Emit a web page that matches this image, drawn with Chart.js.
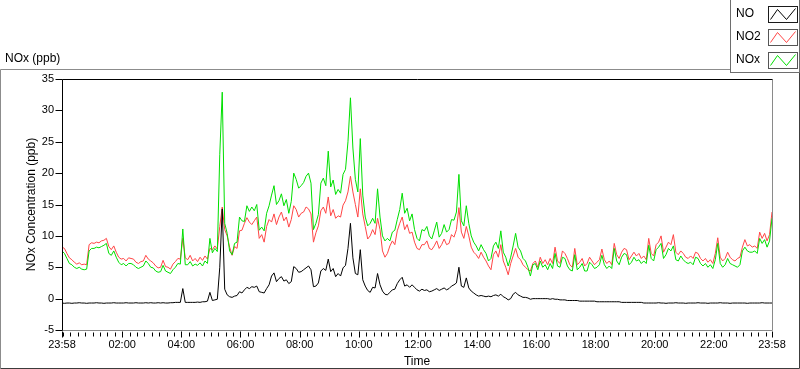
<!DOCTYPE html>
<html>
<head>
<meta charset="utf-8">
<script src="https://cdn.jsdelivr.net/npm/chart.js@4.4.1/dist/chart.umd.min.js"></script>
<style>
  html, body { margin: 0; padding: 0; background: #fff; overflow: hidden; }
  canvas { display: block; }
</style>
</head>
<body>
<canvas id="noxChart" width="800" height="369"></canvas>
<script>
// one sample every 5 minutes, starting 23:58 (one row = one hour)
const STEP_MIN = 5;

const NO = [
  -0.7, -0.75, -0.7, -0.7, -0.75, -0.7, -0.7, -0.65, -0.7, -0.7, -0.75, -0.7,
  -0.7, -0.7, -0.65, -0.7, -0.7, -0.75, -0.7, -0.7, -0.7, -0.65, -0.7, -0.7,
  -0.7, -0.7, -0.65, -0.7, -0.7, -0.7, -0.65, -0.7, -0.7, -0.7, -0.65, -0.7,
  -0.65, -0.7, -0.7, -0.65, -0.7, -0.65, -0.7, -0.7, -0.65, -0.65, -0.6, -0.6,
  -0.6, 1.6, -0.6, -0.6, -0.6, -0.6, -0.6, -0.55, -0.6, -0.5, -0.5, -0.4,
  1.0, -0.3, -0.2, -0.1, 5.0, 14.3, 1.5, 0.6, 0.3, 0.2, 0.4, 0.5,
  1.1, 0.9, 1.4, 1.8, 1.6, 1.9, 1.8, 2.0, 1.1, 1.0, 0.9, 1.6,
  2.2, 3.6, 4.1, 2.7, 3.2, 3.5, 2.8, 3.0, 2.4, 2.7, 5.1, 4.8,
  4.2, 4.3, 4.6, 4.9, 5.2, 4.6, 1.9, 2.0, 2.5, 4.4, 4.8, 4.5,
  6.3, 4.3, 4.8, 3.5, 4.0, 3.6, 4.9, 5.3, 8.0, 12.0, 6.5, 4.0,
  3.8, 7.8, 3.0, 2.0, 1.3, 1.0, 1.8, 1.7, 4.0, 2.2, 1.2, 0.7,
  0.6, 1.0, 1.4, 1.5, 2.4, 3.0, 3.4, 2.0, 2.2, 1.8, 2.2, 1.8,
  1.4, 1.2, 1.5, 1.3, 1.4, 1.1, 1.2, 1.4, 1.6, 1.3, 1.5, 1.7,
  1.4, 1.6, 2.0, 2.2, 2.5, 5.0, 2.0, 1.8, 3.3, 1.7, 1.2, 0.9,
  0.6, 0.4, 0.5, 0.4, 0.3, 0.4, 0.3, 0.5, 0.6, 0.4, 0.7, 0.3,
  0.1, -0.2, 0.0, 0.7, 1.0, 0.6, 0.4, 0.2, 0.2, 0.1, -0.1, 0.0,
  0.0, 0.0, 0.0, 0.0, 0.0, 0.0, -0.1, 0.0, -0.1, -0.1, -0.2, -0.2,
  -0.2, -0.3, -0.3, -0.3, -0.3, -0.3, -0.4, -0.4, -0.4, -0.4, -0.4, -0.4,
  -0.4, -0.5, -0.5, -0.5, -0.5, -0.5, -0.5, -0.5, -0.5, -0.5, -0.5, -0.6,
  -0.6, -0.6, -0.6, -0.6, -0.6, -0.6, -0.6, -0.6, -0.7, -0.7, -0.7, -0.7,
  -0.7, -0.7, -0.65, -0.7, -0.7, -0.75, -0.7, -0.7, -0.7, -0.65, -0.7, -0.7,
  -0.7, -0.75, -0.7, -0.7, -0.7, -0.7, -0.65, -0.7, -0.7, -0.7, -0.75, -0.7,
  -0.7, -0.7, -0.7, -0.65, -0.7, -0.7, -0.7, -0.75, -0.7, -0.7, -0.7, -0.7,
  -0.7, -0.7, -0.75, -0.7, -0.7, -0.7, -0.7, -0.7, -0.65, -0.7, -0.7, -0.7,
  -0.7
];

const NO2 = [
  8.2, 8.0, 7.2, 6.5, 6.2, 5.8, 5.5, 5.7, 5.4, 5.5, 5.4, 8.6,
  8.9, 8.8, 9.0, 8.9, 9.2, 9.3, 9.6, 8.3, 7.8, 8.4, 7.4, 6.6,
  6.3, 6.4, 6.0, 6.5, 6.4, 6.3, 5.8, 5.6, 5.9, 6.0, 6.9, 6.3,
  6.0, 5.7, 5.2, 4.9, 5.0, 6.1, 5.1, 5.0, 4.7, 5.5, 5.9, 6.4,
  6.3, 9.6, 6.5, 6.2, 6.9, 6.0, 6.4, 5.9, 6.6, 6.1, 6.8, 6.3,
  8.0, 7.8, 8.4, 7.9, 11.5, 14.6, 11.0, 10.0, 8.2, 6.9, 8.3, 8.0,
  10.8, 10.9, 12.0, 12.9, 12.2, 11.8, 12.4, 13.0, 9.6, 10.2, 9.0, 11.5,
  12.6, 12.2, 13.5, 11.8, 13.0, 13.8, 12.4, 13.0, 11.4, 12.6, 14.8, 14.2,
  13.0, 13.6, 13.8, 14.6, 14.3, 13.5, 9.0, 10.5, 11.6, 14.0, 14.6, 13.6,
  16.2, 13.2, 14.2, 12.8, 13.2, 13.0, 14.9, 15.6, 17.0, 19.5, 17.0, 15.0,
  13.0, 17.5, 13.5, 11.5, 9.5, 10.0, 11.0, 10.2, 12.8, 11.0, 7.6, 6.6,
  7.2, 8.4, 9.2, 8.6, 10.8, 12.0, 13.0, 11.0, 11.8, 10.4, 10.6, 9.0,
  8.0, 7.8, 8.6, 8.6, 9.2, 8.0, 7.8, 8.4, 9.2, 8.0, 8.6, 9.5,
  8.6, 8.8, 10.2, 9.8, 11.0, 14.5, 10.6, 9.6, 11.5, 10.0, 8.2, 7.4,
  7.0, 6.4, 7.4, 6.6, 6.0, 5.2, 4.6, 7.0, 7.6, 6.6, 8.6, 6.0,
  5.0, 3.8, 5.6, 6.8, 8.0, 6.6, 6.2, 5.4, 5.0, 4.6, 4.4, 5.6,
  6.0, 5.0, 6.6, 5.6, 6.2, 5.4, 6.4, 5.6, 8.2, 6.0, 5.6, 7.6,
  7.2, 6.4, 5.4, 5.0, 8.0, 5.4, 5.8, 6.4, 5.2, 5.6, 6.6, 6.0,
  5.4, 5.8, 6.2, 7.9, 6.2, 5.6, 6.0, 5.4, 8.8, 7.0, 6.4, 7.4,
  8.0, 7.8, 6.2, 6.8, 7.4, 6.8, 7.2, 6.4, 6.8, 6.2, 9.6, 7.2,
  6.8, 8.6, 9.0, 10.0, 7.4, 8.2, 9.0, 8.6, 10.2, 7.4, 7.0, 7.6,
  7.2, 6.6, 6.4, 6.8, 6.4, 7.4, 7.2, 6.4, 6.0, 6.4, 5.8, 6.2,
  5.6, 7.2, 9.7, 6.6, 6.0, 6.4, 7.4, 6.6, 6.2, 6.0, 6.4, 6.6,
  8.2, 9.4, 8.4, 8.6, 8.2, 8.4, 8.0, 10.6, 9.6, 10.4, 9.2, 10.2,
  13.8
];

const NOX = [
  7.6, 7.2, 6.4, 5.6, 5.4, 5.0, 4.8, 5.0, 4.7, 4.6, 4.7, 7.6,
  8.0, 8.0, 8.2, 8.1, 8.3, 8.5, 8.8, 7.2, 6.9, 7.6, 6.6, 5.8,
  5.4, 5.6, 5.2, 5.6, 5.6, 5.4, 5.0, 4.8, 5.0, 5.2, 6.0, 5.6,
  5.0, 4.9, 4.4, 4.2, 4.3, 5.3, 4.4, 4.2, 4.0, 4.6, 5.0, 5.6,
  5.5, 11.1, 5.4, 5.4, 5.9, 5.2, 5.5, 5.3, 5.7, 5.2, 6.0, 5.6,
  9.6, 7.3, 8.0, 7.5, 23.0, 32.9, 12.0, 10.4, 7.6, 7.0, 8.8, 9.0,
  13.0, 12.4, 12.3, 14.8, 13.9, 14.6, 14.0, 15.0, 10.9, 11.4, 10.8, 13.6,
  14.8, 16.5, 18.0, 15.0, 15.6, 16.7, 14.8, 15.8, 13.6, 15.5, 20.0, 19.0,
  17.6, 18.0, 18.5, 19.5, 20.0, 18.4, 11.0, 12.0, 13.4, 18.4, 19.2, 18.0,
  23.5, 17.8, 18.9, 16.6, 17.4, 16.8, 19.8, 20.6, 25.0, 32.0, 24.0, 19.0,
  17.0, 25.5, 16.5, 13.0, 11.6, 12.0, 12.8, 12.0, 17.5, 13.0, 10.0, 9.2,
  9.6, 9.2, 10.6, 10.9, 12.6, 14.2, 16.8, 13.6, 14.4, 12.4, 13.5, 11.0,
  9.6, 9.2, 11.0, 10.8, 11.5, 10.0, 9.5, 10.8, 12.2, 9.8, 10.4, 11.8,
  10.6, 11.0, 12.6, 12.5, 13.8, 19.8, 12.4, 11.6, 14.8, 12.0, 10.0, 9.0,
  8.4, 7.6, 8.6, 7.8, 7.2, 6.0, 6.4, 8.4, 9.0, 8.0, 10.8, 7.4,
  6.6, 5.2, 6.6, 8.4, 10.4, 8.2, 7.6, 6.4, 6.0, 5.0, 3.6, 5.4,
  5.6, 4.6, 6.0, 5.0, 5.4, 4.6, 5.6, 4.8, 7.2, 5.2, 5.0, 6.6,
  6.4, 5.2, 4.6, 4.4, 7.0, 4.6, 5.0, 5.6, 4.4, 4.4, 5.8, 5.4,
  4.8, 5.0, 5.4, 6.9, 5.4, 4.8, 5.2, 4.8, 8.0, 6.0, 5.4, 6.6,
  7.2, 7.0, 5.4, 5.8, 6.6, 6.0, 6.2, 5.6, 6.0, 5.6, 8.5, 6.4,
  6.0, 7.8, 8.2, 8.8, 6.4, 7.0, 8.0, 7.6, 8.4, 6.2, 6.0, 6.8,
  6.2, 5.8, 5.6, 5.8, 5.4, 6.6, 6.4, 5.6, 5.2, 5.6, 5.0, 5.4,
  4.8, 6.2, 8.8, 5.6, 5.0, 5.4, 6.4, 5.6, 5.4, 5.2, 5.0, 5.4,
  7.6, 8.2, 7.6, 7.4, 7.4, 7.6, 7.2, 9.6, 8.8, 9.4, 8.2, 9.2,
  12.8
];

// minutes after 23:58 for each sample
const times = NO.map((_, i) => i * STEP_MIN);

const TICK_MINUTES = [0, 122, 242, 362, 482, 602, 722, 842, 962, 1082, 1202, 1322, 1440];
const TICK_LABELS = ['23:58', '02:00', '04:00', '06:00', '08:00', '10:00', '12:00',
  '14:00', '16:00', '18:00', '20:00', '22:00', '23:58'];
const Y_TICKS = [-5, 0, 5, 10, 15, 20, 25, 30, 35];

const SERIES = [
  { name: 'NO', values: NO, color: '#000000', box: '#1a1a1a' },
  { name: 'NO2', values: NO2, color: '#ff4545', box: '#555555' },
  { name: 'NOx', values: NOX, color: '#00e000', box: '#555555' }
];

const FONT = "'Liberation Sans', Arial, sans-serif";

const labviewFrame = {
  id: 'labviewFrame',
  beforeDraw(chart) {
    const c = chart.ctx;
    c.save();
    c.fillStyle = '#fff';
    c.fillRect(0, 0, chart.width, chart.height);
    // outer panel
    c.lineWidth = 1;
    c.strokeStyle = '#8c8c8c';
    c.beginPath();
    c.moveTo(0.5, 368.5); c.lineTo(0.5, 69.5); c.lineTo(799.5, 69.5);
    c.stroke();
    c.strokeStyle = '#3c3c3c';
    c.beginPath();
    c.moveTo(0.5, 368.5); c.lineTo(799.5, 368.5); c.lineTo(799.5, 69.5);
    c.stroke();
    c.restore();
  },
  afterDraw(chart) {
    const c = chart.ctx;
    const { left, right, top, bottom } = chart.chartArea;
    const xs = chart.scales.x, ys = chart.scales.y;
    const L = Math.round(left) + 0.5, R = Math.round(right) + 0.5;
    const T = Math.round(top) + 0.5, B = Math.round(bottom) + 0.5;
    c.save();
    c.lineWidth = 1;
    // plot frame: dark top/left, grey right/bottom
    c.strokeStyle = '#8a8a8a';
    c.beginPath(); c.moveTo(L, B); c.lineTo(R, B); c.lineTo(R, T); c.stroke();
    c.strokeStyle = '#000';
    c.beginPath(); c.moveTo(L, B); c.lineTo(L, T); c.lineTo(R, T); c.stroke();

    // x tick marks: minor every 15 min from 00:00, major at labels
    c.beginPath();
    for (let m = 2; m <= 1440; m += 15) {
      const px = Math.round(xs.getPixelForValue(m)) + 0.5;
      c.moveTo(px, B + 2); c.lineTo(px, B + 6);
    }
    TICK_MINUTES.forEach(m => {
      const px = Math.round(xs.getPixelForValue(m)) + 0.5;
      c.moveTo(px, B + 1); c.lineTo(px, B + 7);
    });
    // y tick marks
    Y_TICKS.forEach(v => {
      const py = Math.round(ys.getPixelForValue(v)) + 0.5;
      c.moveTo(L - 7, py); c.lineTo(L, py);
    });
    c.stroke();

    // scale name, top left
    c.fillStyle = '#000';
    c.font = '12px ' + FONT;
    c.textBaseline = 'middle';
    c.textAlign = 'left';
    c.fillText('NOx (ppb)', 5, 59);

    // legend box
    c.fillStyle = '#fff';
    c.fillRect(730, 0, 70, 73);
    c.strokeStyle = '#6e6e6e';
    c.strokeRect(730.5, -0.5, 69, 73);
    SERIES.forEach((s, i) => {
      const cy = 13.5 + i * 23;
      c.fillStyle = '#000';
      c.fillText(s.name, 736, cy);
      const bx = 768.5, by = Math.round(cy - 8) + 0.5, bw = 29, bh = 16;
      c.strokeStyle = s.box;
      c.strokeRect(bx, by, bw, bh);
      c.strokeStyle = s.color;
      c.beginPath();
      c.moveTo(bx + 2, by + bh - 3);
      c.lineTo(bx + 9, by + 3);
      c.lineTo(bx + 18, by + bh - 3);
      c.lineTo(bx + 27, by + 2);
      c.stroke();
    });
    c.restore();
  }
};

new Chart(document.getElementById('noxChart'), {
  type: 'line',
  data: {
    datasets: SERIES.map((s, i) => ({
      label: s.name,
      data: times.map((t, k) => ({ x: t, y: s.values[k] })),
      borderColor: s.color,
      borderWidth: 1,
      pointRadius: 0,
      tension: 0,
      fill: false,
      order: i === 0 ? 0 : 3 - i
    }))
  },
  options: {
    responsive: false,
    devicePixelRatio: 1,
    animation: false,
    events: [],
    layout: { padding: { top: 79, right: 28, bottom: 0, left: 0 } },
    plugins: { legend: { display: false }, tooltip: { enabled: false } },
    scales: {
      x: {
        type: 'linear',
        min: 0,
        max: 1440,
        afterBuildTicks: s => { s.ticks = TICK_MINUTES.map(v => ({ value: v })); },
        afterFit: s => { s.height = 39; },
        ticks: {
          autoSkip: false,
          maxRotation: 0,
          padding: 8,
          color: '#000',
          font: { family: FONT, size: 11 },
          callback: (v, i) => TICK_LABELS[i]
        },
        grid: { display: false, drawTicks: false },
        border: { display: false },
        title: { display: true, text: 'Time', color: '#000', padding: 0, font: { family: FONT, size: 12 } }
      },
      y: {
        min: -5,
        max: 35,
        afterBuildTicks: s => { s.ticks = Y_TICKS.map(v => ({ value: v })); },
        afterFit: s => { s.width = 62; },
        ticks: {
          padding: 8,
          color: '#000',
          font: { family: FONT, size: 11 }
        },
        grid: { display: false, drawTicks: false },
        border: { display: false },
        title: {
          display: true,
          text: 'NOx Concentration (ppb)',
          color: '#000',
          padding: { top: 24, bottom: 0 },
          font: { family: FONT, size: 12 }
        }
      }
    }
  },
  plugins: [labviewFrame]
});
</script>
</body>
</html>
